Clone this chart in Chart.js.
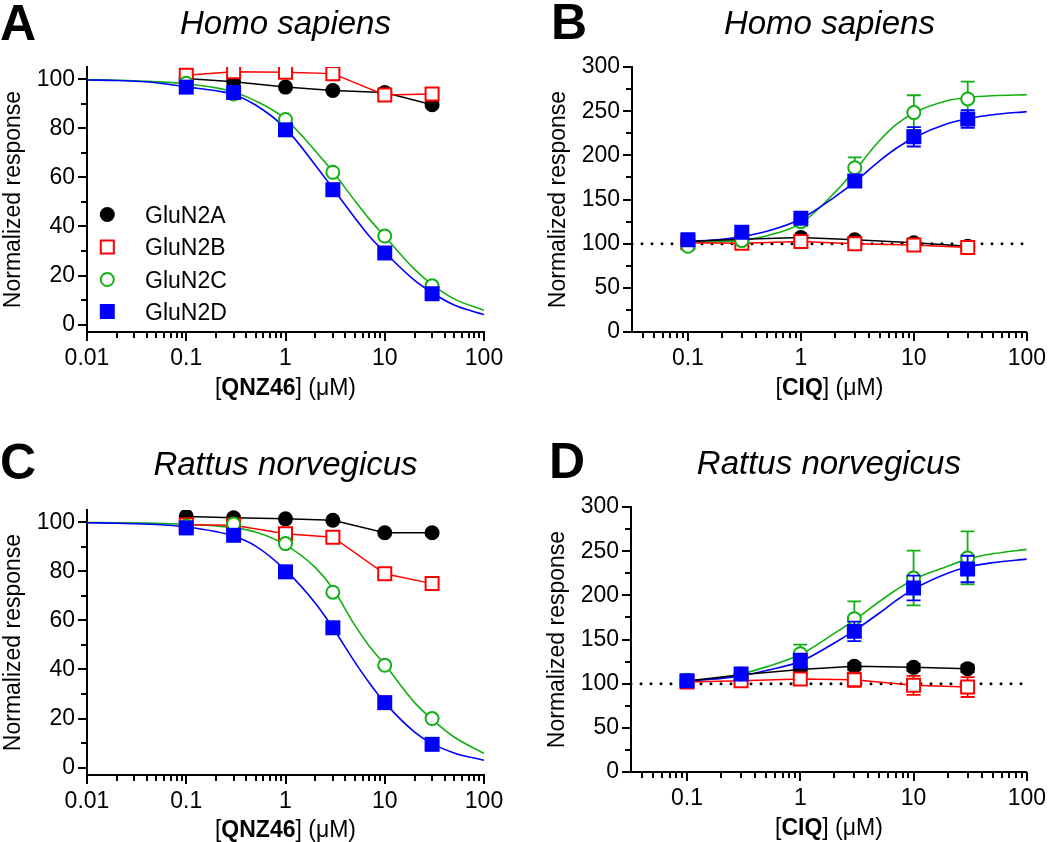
<!DOCTYPE html>
<html>
<head>
<meta charset="utf-8">
<script src="https://cdn.jsdelivr.net/npm/chart.js@4.4.1/dist/chart.umd.min.js"></script>
<style>
body { margin: 0; background: #fff; width: 1050px; height: 842px; position: relative; overflow: hidden; }
canvas { position: absolute; }
</style>
</head>
<body>
<canvas id="pA" width="525" height="421" style="left:0;top:0"></canvas>
<canvas id="pB" width="525" height="421" style="left:525px;top:0"></canvas>
<canvas id="pC" width="525" height="421" style="left:0;top:421px"></canvas>
<canvas id="pD" width="525" height="421" style="left:525px;top:421px"></canvas>
<script>
// concentrations tested (uM)
const conc = [0.1, 0.3, 1, 3, 10, 30];
const subunits = ['GluN2A', 'GluN2B', 'GluN2C', 'GluN2D'];

// A: Homo sapiens, QNZ46
const humanQnzN2A = [100.3, 99.0, 96.8, 95.4, 94.6, 89.6];
const humanQnzN2B = [101.6, 103.1, 102.9, 102.3, 93.6, 94.0];
const humanQnzN2C = [98.4, 94.0, 83.6, 62.1, 36.1, 15.8];
const humanQnzN2D = [96.8, 94.6, 79.4, 55.0, 29.2, 12.6];
const qnzFitConc = [0.01, 0.02, 0.05, 0.1, 0.2, 0.3, 0.5, 1, 2, 3, 5, 7, 10, 20, 30, 50, 100];
const humanQnzFitN2C = [99.8, 99.6, 99.0, 98.2, 96.5, 94.8, 91.2, 83.8, 70.8, 62.3, 50.5, 43.0, 36.0, 22.5, 16.3, 10.5, 5.8];
const humanQnzFitN2D = [99.7, 99.5, 98.6, 96.9, 95.3, 93.8, 89.5, 80.0, 65.0, 55.5, 43.5, 36.0, 29.5, 18.0, 13.0, 8.0, 4.1];

// B: Homo sapiens, CIQ
const humanCiqN2A = [102.5, 105, 107, 104.5, 101, 97];
const humanCiqN2B = [101, 100.5, 102.4, 100, 98.6, 95.6];
const humanCiqN2C = [97, 103.5, 125, 186, 248.4, 263.8];
const humanCiqN2D = [104.3, 113, 128.7, 170.9, 221, 241.2];
const humanCiqErrA = [2, 2, 3, 3, 2, 2];
const humanCiqErrB = [2, 2, 3, 3, 3, 3];
const humanCiqErrC = [3, 3, 5, 11.6, 19.6, 19.6];
const humanCiqErrD = [3, 3, 4, 7, 11, 10];
const ciqFitConc = [0.1, 0.2, 0.3, 0.5, 1, 2, 3, 5, 7, 10, 20, 30, 50, 100];
const humanCiqFitN2C = [101.5, 102.5, 104, 109, 123, 158, 183, 217, 235, 248, 262, 265.5, 267.5, 268.7];
const humanCiqFitN2D = [102.5, 105, 108, 114, 128, 153, 170, 194, 208, 220, 236, 241.5, 246, 249.5];

// C: Rattus norvegicus, QNZ46
const ratQnzN2A = [102.4, 101.8, 101.4, 100.8, 95.7, 95.7];
const ratQnzN2B = [99.0, 98.8, 95.3, 93.9, 79.0, 75.0];
const ratQnzN2C = [98.5, 99.3, 91.3, 71.5, 41.7, 20.0];
const ratQnzN2D = [97.7, 94.7, 79.8, 57.0, 26.5, 9.5];
const ratQnzFitN2C = [99.9, 99.8, 99.6, 99.2, 98.5, 97.8, 96.0, 90.8, 81.5, 73.0, 58.0, 49.5, 42.0, 26.5, 19.7, 12.5, 5.8];
const ratQnzFitN2D = [99.8, 99.6, 99.1, 98.1, 96.2, 94.4, 90.3, 80.5, 67.0, 57.0, 43.0, 34.5, 26.5, 14.5, 9.8, 6.0, 3.0];

// D: Rattus norvegicus, CIQ
const ratCiqN2A = [103, 110, 116, 119.6, 118.5, 117];
const ratCiqN2B = [102, 103.4, 105.3, 104.5, 98.1, 96.2];
const ratCiqN2C = [104, 111, 133.9, 173.6, 219.6, 242.3];
const ratCiqN2D = [103.4, 110.9, 126, 159.2, 208.3, 229.8];
const ratCiqErrA = [2, 3, 3, 4, 4, 4];
const ratCiqErrB = [3, 4, 5, 8, 10.7, 11.3];
const ratCiqErrC = [3, 4, 10.3, 19.6, 31, 30];
const ratCiqErrD = [3, 4, 8, 11, 14, 15];
const ratCiqFitN2C = [103, 107, 111, 119, 133, 157, 172, 193, 206, 218, 233, 241, 247, 252];
const ratCiqFitN2D = [103, 106, 109, 115, 125, 146, 160, 180, 194, 207, 225, 232, 237, 241];

// axes
const qnzTicks = [0.01, 0.1, 1, 10, 100];
const ciqTicks = [0.1, 1, 10, 100];
const normTicks = [0, 20, 40, 60, 80, 100];
const normMinor = [10, 30, 50, 70, 90];
const potTicks = [0, 50, 100, 150, 200, 250, 300];
const potMinor = [25, 75, 125, 175, 225, 275];
const refConc = [0.032, 100];
const refLevel = [100, 100];

const colA = '#000000', colB = '#ff0000', colC = '#12b012', colD = '#0000ff';
const FONT = '"Liberation Sans", Arial, sans-serif';
const TXT = 23;
Chart.defaults.font.family = FONT;
Chart.defaults.color = '#000';

function pts(xs, ys) { return xs.map((x, i) => ({ x: x, y: ys[i] })); }

function minorLog(min, max) {
  const out = [];
  for (let d = 0.001; d < max; d *= 10) {
    for (let k = 2; k <= 9; k++) {
      const v = +(k * d).toPrecision(3);
      if (v > min && v < max) out.push(v);
    }
  }
  return out;
}

const decorById = {};

const decor = {
  id: 'decor',
  beforeDatasetDraw(chart, args) {
    const ds = chart.data.datasets[args.index];
    if (!ds.errors) return;
    const xs = chart.scales.x, ys = chart.scales.y, ctx = chart.ctx;
    ctx.save();
    ctx.strokeStyle = ds.errColor;
    ctx.lineWidth = 1.8;
    ds.data.forEach((p, i) => {
      const e = ds.errors[i];
      if (!e) return;
      const x = xs.getPixelForValue(p.x);
      const y1 = ys.getPixelForValue(p.y + e), y2 = ys.getPixelForValue(p.y - e);
      ctx.beginPath();
      ctx.moveTo(x, y1); ctx.lineTo(x, y2);
      ctx.moveTo(x - 7, y1); ctx.lineTo(x + 7, y1);
      ctx.moveTo(x - 7, y2); ctx.lineTo(x + 7, y2);
      ctx.stroke();
    });
    ctx.restore();
  },
  afterDraw(chart) {
    const o = decorById[chart.canvas.id];
    const ctx = chart.ctx, a = chart.chartArea;
    const xs = chart.scales.x, ys = chart.scales.y;
    ctx.save();
    // tick marks
    ctx.strokeStyle = '#000';
    ctx.lineWidth = 2;
    ctx.beginPath();
    o.xMajor.forEach(v => { const p = Math.round(xs.getPixelForValue(v)); ctx.moveTo(p, a.bottom); ctx.lineTo(p, a.bottom + 9); });
    o.xMinor.forEach(v => { const p = Math.round(xs.getPixelForValue(v)); ctx.moveTo(p, a.bottom); ctx.lineTo(p, a.bottom + 6); });
    o.yMajor.forEach(v => { const p = Math.round(ys.getPixelForValue(v)); ctx.moveTo(a.left, p); ctx.lineTo(a.left - 9, p); });
    o.yMinor.forEach(v => { const p = Math.round(ys.getPixelForValue(v)); ctx.moveTo(a.left, p); ctx.lineTo(a.left - 6, p); });
    ctx.stroke();

    ctx.fillStyle = '#000';
    ctx.textBaseline = 'alphabetic';
    // panel letter
    ctx.textAlign = 'left';
    ctx.font = 'bold 50px ' + FONT;
    ctx.fillText(o.letter, o.letterX, o.letterY);
    // species title
    ctx.textAlign = 'center';
    ctx.font = 'italic 33px ' + FONT;
    const cx = (a.left + a.right) / 2;
    ctx.fillText(o.title, cx, o.titleY);
    // x axis title with bold compound name
    const parts = [['[', false], [o.drug, true], ['] (\u03bcM)', false]];
    let w = 0;
    parts.forEach(p => { ctx.font = (p[1] ? 'bold ' : '') + TXT + 'px ' + FONT; w += ctx.measureText(p[0]).width; });
    let x = cx - w / 2;
    ctx.textAlign = 'left';
    parts.forEach(p => {
      ctx.font = (p[1] ? 'bold ' : '') + TXT + 'px ' + FONT;
      ctx.fillText(p[0], x, o.xTitleY);
      x += ctx.measureText(p[0]).width;
    });
    // legend
    if (o.legend) {
      const rows = [214.5, 247, 279.5, 311.5];
      const mx = 107.3, tx = 145;
      chart.data.datasets.slice(0, 4).reverse().forEach((ds, i) => {
        const y = rows[i];
        ctx.beginPath();
        if (ds.pointStyle === 'rect') {
          const s = Math.SQRT1_2 * ds.pointRadius;
          ctx.rect(mx - s, y - s, 2 * s, 2 * s);
        } else {
          ctx.arc(mx, y, ds.pointRadius, 0, Math.PI * 2);
        }
        ctx.fillStyle = ds.pointBackgroundColor;
        ctx.fill();
        if (ds.pointBorderWidth > 0) {
          ctx.lineWidth = ds.pointBorderWidth;
          ctx.strokeStyle = ds.pointBorderColor;
          ctx.stroke();
        }
        ctx.fillStyle = '#000';
        ctx.font = TXT + 'px ' + FONT;
        ctx.fillText(ds.label, tx, y + 8);
      });
    }
    ctx.restore();
  }
};
Chart.register(decor);

function panel(id, p) {
  decorById[id] = p.decor;
  const datasets = [
    { label: subunits[3], data: pts(conc, p.d), showLine: false, pointStyle: 'rect', pointRadius: 10.6,
      pointBackgroundColor: colD, pointBorderColor: colD, pointBorderWidth: 0, errors: p.errD, errColor: colD },
    { label: subunits[2], data: pts(conc, p.c), showLine: false, pointStyle: 'circle', pointRadius: 6.5,
      pointBackgroundColor: '#fff', pointBorderColor: colC, pointBorderWidth: 2, errors: p.errC, errColor: colC },
    { label: subunits[1], data: pts(conc, p.b), showLine: true, borderColor: colB, borderWidth: 1.5,
      pointStyle: 'rect', pointRadius: 9.2, pointBackgroundColor: '#fff', pointBorderColor: colB, pointBorderWidth: 2,
      errors: p.errB, errColor: colB },
    { label: subunits[0], data: pts(conc, p.a), showLine: true, borderColor: colA, borderWidth: 1.5,
      pointStyle: 'circle', pointRadius: 7.5, pointBackgroundColor: colA, pointBorderColor: colA, pointBorderWidth: 0,
      errors: p.errA, errColor: colA },
    { label: 'fit GluN2D', data: pts(p.fitX, p.fitD), showLine: true, borderColor: colD, borderWidth: 1.6,
      pointRadius: 0, cubicInterpolationMode: 'monotone' },
    { label: 'fit GluN2C', data: pts(p.fitX, p.fitC), showLine: true, borderColor: colC, borderWidth: 1.6,
      pointRadius: 0, cubicInterpolationMode: 'monotone' }
  ];
  if (p.ref) {
    datasets.push({ label: 'control', data: pts(refConc, refLevel), showLine: true, borderColor: '#000',
      borderWidth: 3, borderDash: [0, 10], borderCapStyle: 'round', pointRadius: 0 });
  }
  const axisGrid = { display: true, drawOnChartArea: false, drawTicks: true, tickLength: 9, color: 'rgba(0,0,0,0)' };
  new Chart(document.getElementById(id), {
    type: 'scatter',
    data: { datasets: datasets },
    options: {
      responsive: false,
      animation: false,
      events: [],
      layout: { padding: p.pad },
      plugins: { legend: { display: false }, tooltip: { enabled: false } },
      scales: {
        x: {
          type: 'logarithmic', position: 'bottom', min: p.xMin, max: 100, bounds: 'data',
          afterBuildTicks: s => { s.ticks = p.xTicks.map(v => ({ value: v })); },
          afterFit: s => { s.height = 45; },
          grid: axisGrid,
          border: { display: true, color: '#000', width: 2 },
          ticks: { color: '#000', font: { size: TXT }, padding: 4, autoSkip: false, maxRotation: 0, minRotation: 0,
            callback: v => String(v) }
        },
        y: {
          type: 'linear', min: p.yMin, max: p.yMax, bounds: 'data',
          afterBuildTicks: s => { s.ticks = p.yTicks.map(v => ({ value: v })); },
          afterFit: s => { s.width = 87; },
          grid: axisGrid,
          border: { display: true, color: '#000', width: 2 },
          ticks: { color: '#000', font: { size: TXT }, padding: 3, autoSkip: false, callback: v => String(v) },
          title: { display: true, text: 'Normalized response', color: '#000', font: { size: TXT }, padding: { top: 0, bottom: 0 } }
        }
      }
    }
  });
}

panel('pA', {
  a: humanQnzN2A, b: humanQnzN2B, c: humanQnzN2C, d: humanQnzN2D,
  fitX: qnzFitConc, fitC: humanQnzFitN2C, fitD: humanQnzFitN2D,
  xMin: 0.01, xTicks: qnzTicks, yMin: -3, yMax: 105, yTicks: normTicks,
  pad: { left: 0, top: 67, right: 41, bottom: 44 },
  decor: { letter: 'A', letterX: 0, letterY: 40, title: 'Homo sapiens', titleY: 34, drug: 'QNZ46', xTitleY: 395,
    xMajor: qnzTicks, xMinor: minorLog(0.01, 100), yMajor: normTicks, yMinor: normMinor, legend: true }
});

panel('pB', {
  a: humanCiqN2A, b: humanCiqN2B, c: humanCiqN2C, d: humanCiqN2D,
  errA: humanCiqErrA, errB: humanCiqErrB, errC: humanCiqErrC, errD: humanCiqErrD,
  fitX: ciqFitConc, fitC: humanCiqFitN2C, fitD: humanCiqFitN2D, ref: true,
  xMin: 0.032, xTicks: ciqTicks, yMin: 0, yMax: 300, yTicks: potTicks,
  pad: { left: 20, top: 67, right: 22, bottom: 44 },
  decor: { letter: 'B', letterX: 26, letterY: 39, title: 'Homo sapiens', titleY: 34, drug: 'CIQ', xTitleY: 395,
    xMajor: ciqTicks, xMinor: minorLog(0.032, 100), yMajor: potTicks, yMinor: potMinor, legend: false }
});

panel('pC', {
  a: ratQnzN2A, b: ratQnzN2B, c: ratQnzN2C, d: ratQnzN2D,
  fitX: qnzFitConc, fitC: ratQnzFitN2C, fitD: ratQnzFitN2D,
  xMin: 0.01, xTicks: qnzTicks, yMin: -3, yMax: 105, yTicks: normTicks,
  pad: { left: 0, top: 89, right: 41, bottom: 22 },
  decor: { letter: 'C', letterX: 0, letterY: 58, title: 'Rattus norvegicus', titleY: 54, drug: 'QNZ46', xTitleY: 416,
    xMajor: qnzTicks, xMinor: minorLog(0.01, 100), yMajor: normTicks, yMinor: normMinor, legend: false }
});

panel('pD', {
  a: ratCiqN2A, b: ratCiqN2B, c: ratCiqN2C, d: ratCiqN2D,
  errA: ratCiqErrA, errB: ratCiqErrB, errC: ratCiqErrC, errD: ratCiqErrD,
  fitX: ciqFitConc, fitC: ratCiqFitN2C, fitD: ratCiqFitN2D, ref: true,
  xMin: 0.032, xTicks: ciqTicks, yMin: 0, yMax: 300, yTicks: potTicks,
  pad: { left: 19, top: 86, right: 23, bottom: 25 },
  decor: { letter: 'D', letterX: 24, letterY: 57, title: 'Rattus norvegicus', titleY: 53, drug: 'CIQ', xTitleY: 414,
    xMajor: ciqTicks, xMinor: minorLog(0.032, 100), yMajor: potTicks, yMinor: potMinor, legend: false }
});
</script>
</body>
</html>
